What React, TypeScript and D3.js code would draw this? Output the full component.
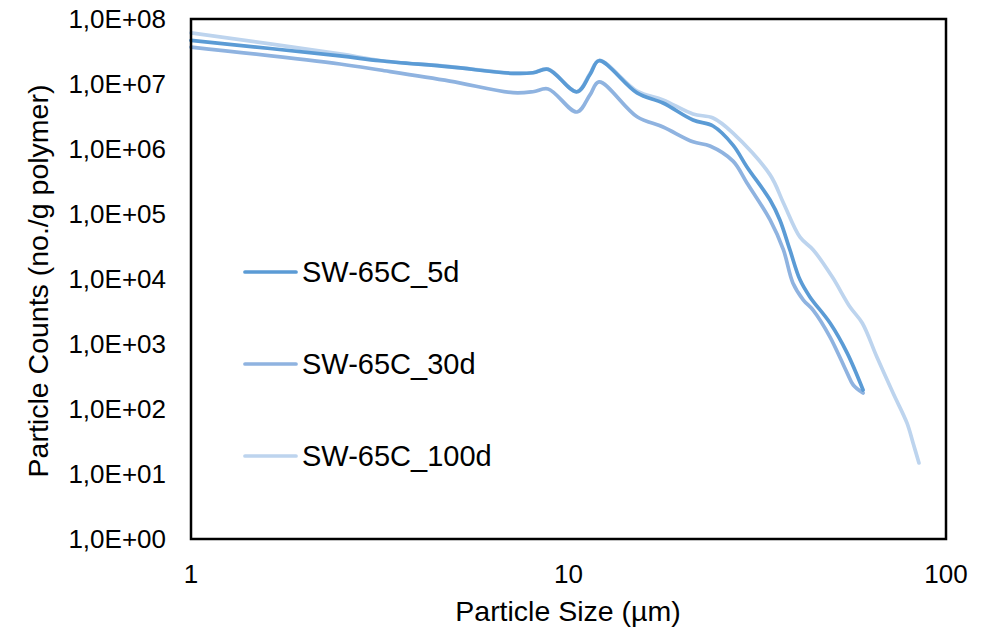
import React from "react";
import * as d3 from "d3";

const seriesNames = ["SW-65C_5d", "SW-65C_30d", "SW-65C_100d"];
const seriesColors = ["#5B9BD5", "#8FB3E0", "#BDD4EE"];

const size5d = [1, 2.48, 3.17, 4.85, 7.13, 8.05, 8.83, 10.53, 11.4, 12.04, 15.19, 17.8, 21.37, 24.15, 27.28, 29.7, 34.2, 36.3, 38.6, 41.05, 43.6, 49.3, 54.7, 60.3];
const count5d = [4.7e7, 2.7e7, 2.28e7, 1.83e7, 1.46e7, 1.49e7, 1.68e7, 7.6e6, 1.4e7, 2.28e7, 7.3e6, 5.1e6, 2.79e6, 2.26e6, 1.15e6, 5.3e5, 1.64e5, 8.1e4, 2.8e4, 9.7e3, 5.3e3, 2.1e3, 730, 196];

const size30d = [1, 2.48, 3.17, 4.85, 7.13, 8.05, 8.83, 10.53, 11.4, 12.04, 15.19, 17.8, 21.37, 23.7, 27.28, 29.7, 34.2, 37.1, 39.3, 41.9, 44.5, 49.3, 54.7, 56.8, 60.3];
const count30d = [3.7e7, 2.03e7, 1.64e7, 1.11e7, 7.35e6, 7.6e6, 8.4e6, 3.71e6, 6.8e6, 1.08e7, 3.14e6, 2.18e6, 1.29e6, 1.11e6, 6.5e5, 3.0e5, 8.1e4, 2.8e4, 8.7e3, 4.75e3, 3.3e3, 1.28e3, 360, 234, 176];

const size100d = [1, 2.48, 3.17, 4.85, 7.13, 8.05, 8.83, 10.53, 11.4, 12.04, 15.19, 17.8, 21.37, 24.15, 27.28, 34.2, 37.1, 41.05, 44.5, 50.0, 55.7, 60.0, 65.6, 72.4, 78.8, 81.8, 84.8];
const count100d = [6.1e7, 2.9e7, 2.3e7, 1.85e7, 1.46e7, 1.49e7, 1.7e7, 7.6e6, 1.45e7, 2.3e7, 7.75e6, 5.7e6, 3.45e6, 3.0e6, 1.76e6, 4.0e5, 1.48e5, 4.4e4, 2.8e4, 1.07e4, 3.7e3, 2.1e3, 630, 176, 61, 30, 14.8];

const xTicks = [1, 10, 100];
const yTicks = [1, 10, 100, 1e3, 1e4, 1e5, 1e6, 1e7, 1e8];

const W = 994;
const H = 634;
const left = 191;
const right = 946;
const top = 19;
const bottom = 539;
const FONT = "'Liberation Sans', Arial, sans-serif";

export default function App() {
  const x = d3.scaleLog().domain([1, 100]).range([left, right]);
  const y = d3.scaleLog().domain([1, 1e8]).range([bottom, top]);

  const series = [
    { name: seriesNames[0], color: seriesColors[0], xs: size5d, ys: count5d },
    { name: seriesNames[1], color: seriesColors[1], xs: size30d, ys: count30d },
    { name: seriesNames[2], color: seriesColors[2], xs: size100d, ys: count100d },
  ];

  const line = d3
    .line<[number, number]>()
    .x((d) => x(d[0]))
    .y((d) => y(d[1]))
    .curve(d3.curveCatmullRom.alpha(0.5));

  const fmt = (v: number) => {
    const e = Math.round(Math.log10(v));
    return "1,0E+" + String(e).padStart(2, "0");
  };

  const drawOrder = [2, 1, 0];

  return (
    <svg
      width={W}
      height={H}
      style={{ position: "absolute", left: 0, top: 0, background: "#fff" }}
      fontFamily={FONT}
    >
      <rect x={0} y={0} width={W} height={H} fill="#fff" />
      {drawOrder.map((i) => {
        const s = series[i];
        const pts = s.xs.map((v, j) => [v, s.ys[j]] as [number, number]);
        return (
          <path
            key={s.name}
            d={line(pts) || ""}
            fill="none"
            stroke={s.color}
            strokeWidth={3.7}
            strokeLinejoin="round"
            strokeLinecap="round"
          />
        );
      })}
      <rect
        x={left}
        y={top}
        width={right - left}
        height={bottom - top}
        fill="none"
        stroke="#000"
        strokeWidth={2.5}
      />
      {yTicks.map((t) => (
        <text
          key={"y" + t}
          x={166}
          y={y(t)}
          textAnchor="end"
          dominantBaseline="central"
          fontSize={26}
          fill="#000"
        >
          {fmt(t)}
        </text>
      ))}
      {xTicks.map((t) => (
        <text
          key={"x" + t}
          x={x(t)}
          y={574}
          textAnchor="middle"
          dominantBaseline="central"
          fontSize={26}
          fill="#000"
        >
          {String(t)}
        </text>
      ))}
      <text
        x={568}
        y={611}
        textAnchor="middle"
        dominantBaseline="central"
        fontSize={28.5}
        fill="#000"
      >
        Particle Size (µm)
      </text>
      <text
        transform={`translate(38, ${281}) rotate(-90)`}
        textAnchor="middle"
        dominantBaseline="central"
        fontSize={28.5}
        fill="#000"
      >
        Particle Counts (no./g polymer)
      </text>
      {series.map((s, i) => {
        const ly = 272 + i * 92;
        return (
          <g key={"leg" + s.name}>
            <line x1={245} x2={296} y1={ly} y2={ly} stroke={s.color} strokeWidth={3.7} strokeLinecap="round" />
            <text x={302} y={ly} dominantBaseline="central" fontSize={29} fill="#000">
              {s.name}
            </text>
          </g>
        );
      })}
    </svg>
  );
}
